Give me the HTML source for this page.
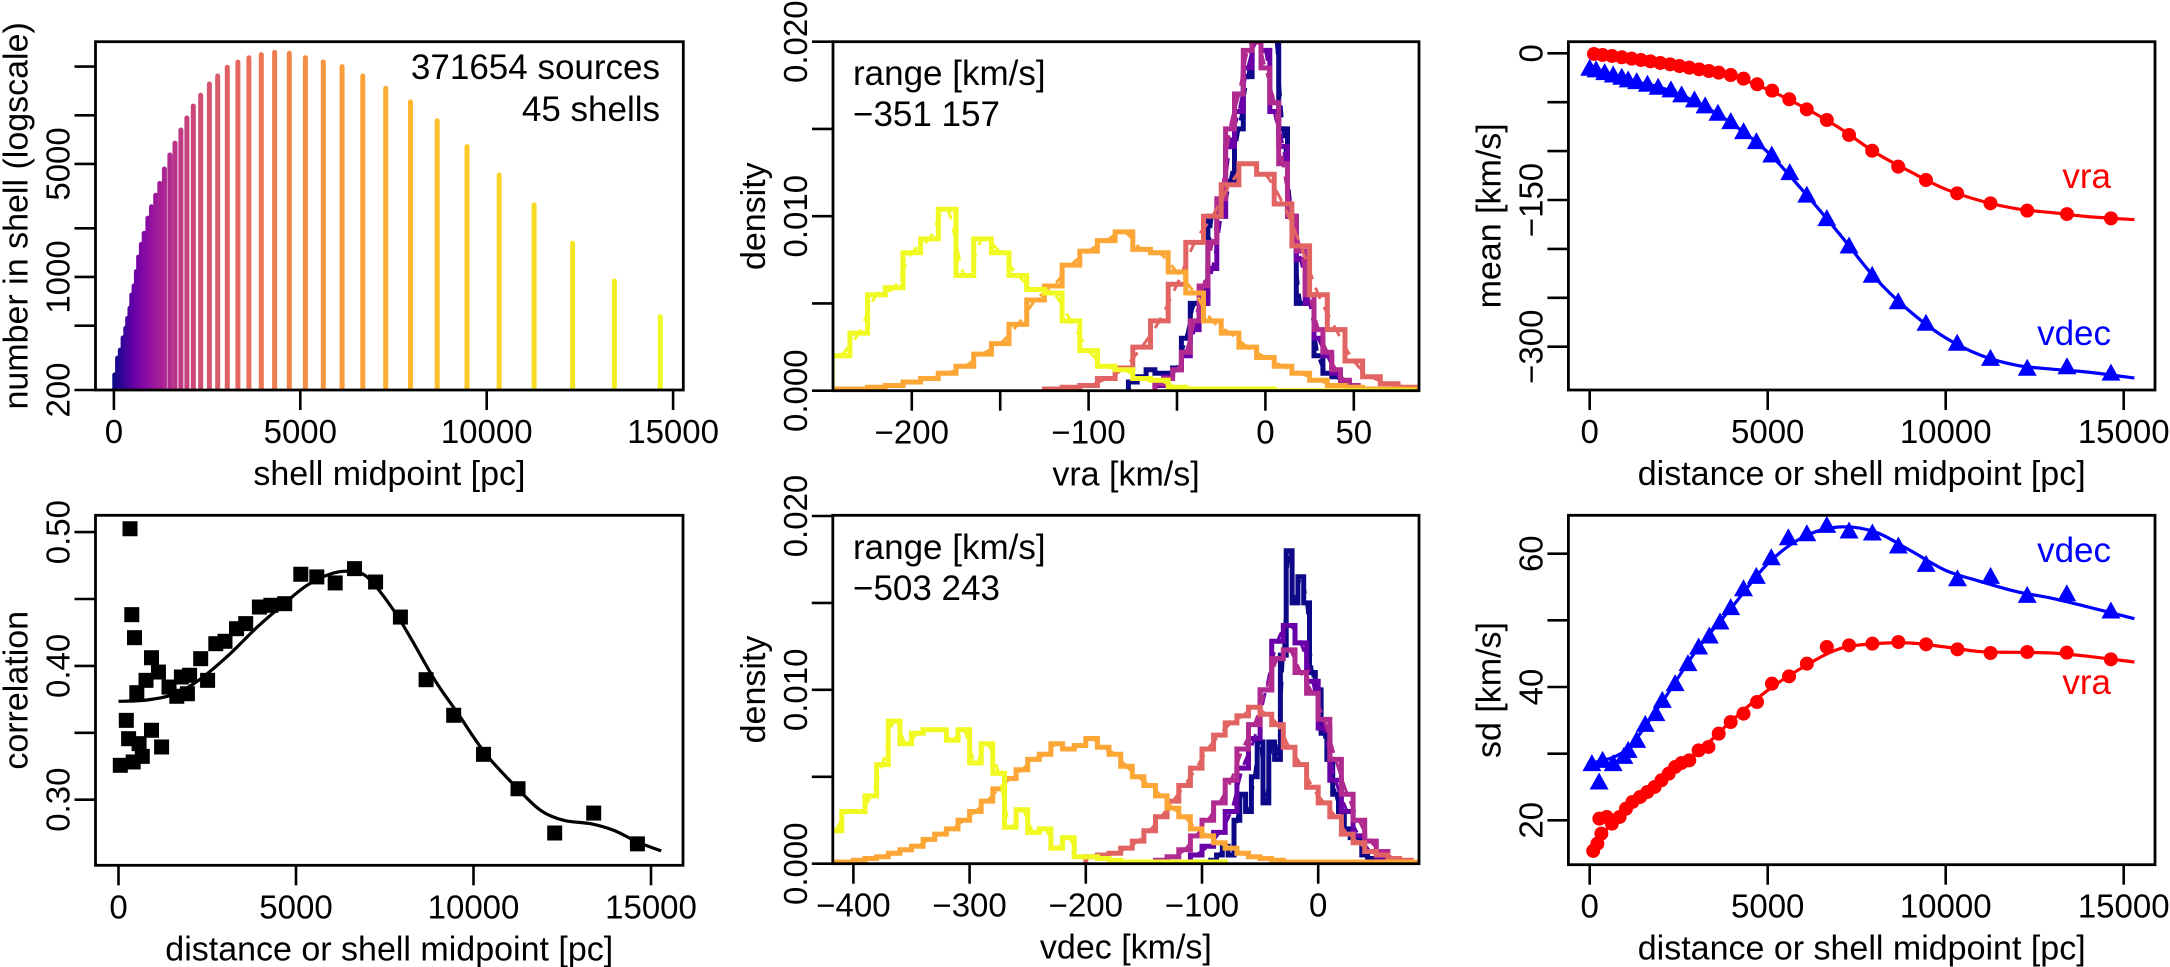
<!DOCTYPE html>
<html><head><meta charset="utf-8"><style>
html,body{margin:0;padding:0;background:#fff;}
svg{display:block;font-family:"Liberation Sans",Arial,sans-serif;}
</style></head><body>
<svg id="fig" width="2170" height="967" viewBox="0 0 2170 967" xmlns="http://www.w3.org/2000/svg">
<defs>
<clipPath id="c1"><rect x="95.5" y="41.7" width="587.8" height="348.3"/></clipPath>
<clipPath id="c2"><rect x="833" y="41.7" width="586" height="349"/></clipPath>
<clipPath id="c3"><rect x="1568.4" y="41.7" width="586.6" height="348.3"/></clipPath>
<clipPath id="c4"><rect x="95.5" y="515.3" width="587.5" height="350"/></clipPath>
<clipPath id="c5"><rect x="832.8" y="515.3" width="586.2" height="348.4"/></clipPath>
<clipPath id="c6"><rect x="1568.4" y="515.3" width="586.6" height="349.4"/></clipPath>
</defs>
</svg>
<script>
// ---------- DATA ----------
const shellDist=[24,99,172,247,319,370,431,480,542,604,665,738,813,912,1009,1121,1231,1355,1502,1639,1797,1958,2130,2328,2562,2784,3042,3326,3621,3954,4311,4705,5137,5617,6121,6676,7291,7956,8672,9472,10335,11271,12304,13425,14657];
const shellCount=[248,315,353,420,482,555,640,774,880,1080,1330,1590,1860,2310,2720,3200,3790,4650,5680,6720,8110,9620,11400,13300,15600,17500,19800,21300,22700,23700,24500,24200,22700,21400,20000,17500,14700,12100,9250,6400,4270,2790,1620,944,568];
const p1XTicks=[0,5000,10000,15000];
const p1YTicks=[200,500,1000,2000,5000,10000,20000];
const p1YLabels=["200","","1000","","5000","",""];

// vra histograms (bin start, bin width, densities)
const vraYellowStart=-245, vraYellowWidth=10;
const vraYellow=[0.0020,0.0033,0.0055,0.0059,0.0079,0.0087,0.0104,0.0066,0.0087,0.0079,0.0066,0.0058,0.0056,0.0040,0.0023,0.0014,0.0012,0.0007,0.0006,0.0002,0.0001,0.0001,0.0001,0.0001,0.0001,0.0000,0.0000,0.0000,0.0000,0.0000,0.0000,0.0000,0.0000];
const vraOrangeStart=-245, vraOrangeWidth=10;
const vraOrange=[0.0001,0.0001,0.0002,0.0003,0.0005,0.0007,0.0010,0.0014,0.0021,0.0027,0.0038,0.0052,0.0060,0.0072,0.0080,0.0086,0.0091,0.0081,0.0079,0.0068,0.0056,0.0040,0.0033,0.0025,0.0019,0.0014,0.0010,0.0006,0.0003,0.0002,0.0001,0.0001,0.0001];
const vraSalmonStart=-125, vraSalmonWidth=10;
const vraSalmon=[0.0001,0.0002,0.0003,0.0007,0.0013,0.0025,0.0040,0.0061,0.0085,0.0100,0.0118,0.0130,0.0124,0.0107,0.0083,0.0055,0.0035,0.0017,0.0008,0.0004,0.0002];
const vraMagentaStart=-62.5, vraMagentaWidth=5;
const vraMagenta=[0.0004,0.0007,0.0012,0.0022,0.0040,0.0060,0.0085,0.0110,0.0150,0.0170,0.0195,0.0200,0.0185,0.0165,0.0130,0.0100,0.0080,0.0055,0.0035,0.0022,0.0012,0.0006,0.0003];
const vraPurpleStart=-62.5, vraPurpleWidth=5;
const vraPurple=[0.0003,0.0008,0.0012,0.0020,0.0035,0.0050,0.0070,0.0100,0.0140,0.0160,0.0185,0.0200,0.0195,0.0160,0.0140,0.0100,0.0075,0.0050,0.0030,0.0020,0.0010,0.0005,0.0002];
const vraNavyStart=-77.5, vraNavyWidth=5;
const vraNavy=[0.0005,0.0008,0.0012,0.0010,0.0010,0.0013,0.0030,0.0050,0.0050,0.0100,0.0100,0.0120,0.0150,0.0180,0.0210,0.0210,0.0210,0.0150,0.0100,0.0050,0.0050,0.0020,0.0010,0.0008,0.0003];
const vraTicks=[-200,-150,-100,-50,0,50];
const vraTickLabels=["-200","","-100","","0","50"];

// vdec histograms
const vdecYellowStart=-420, vdecYellowWidth=10;
const vdecYellow=[0.0019,0.0030,0.0030,0.0039,0.0057,0.0082,0.0069,0.0075,0.0077,0.0077,0.0071,0.0077,0.0058,0.0069,0.0052,0.0021,0.0031,0.0018,0.0020,0.0009,0.0015,0.0004,0.0004,0.0003,0.0002,0.0001,0.0001,0.0001,0.0001,0.0001,0.0001,0.0001,0.0001,0.0001];
const vdecOrangeStart=-420, vdecOrangeWidth=10;
const vdecOrange=[0.0001,0.0001,0.0002,0.0003,0.0004,0.0006,0.0008,0.0010,0.0014,0.0017,0.0020,0.0025,0.0030,0.0036,0.0043,0.0049,0.0054,0.0060,0.0063,0.0069,0.0066,0.0068,0.0072,0.0067,0.0063,0.0056,0.0050,0.0045,0.0039,0.0032,0.0027,0.0020,0.0016,0.0012,0.0009,0.0006,0.0004,0.0003,0.0002,0.0001,0.0001,0.0001,0.0001,0.0001,0.0001,0.0001,0.0001,0.0001,0.0001,0.0001,0.0001];
const vdecSalmonStart=-200, vdecSalmonWidth=10;
const vdecSalmon=[0.0004,0.0005,0.0006,0.0009,0.0013,0.0019,0.0027,0.0036,0.0045,0.0055,0.0066,0.0074,0.0081,0.0085,0.0090,0.0086,0.0080,0.0067,0.0057,0.0044,0.0035,0.0027,0.0017,0.0012,0.0007,0.0005,0.0003,0.0002,0.0001];
const vdecMagentaStart=-140, vdecMagentaWidth=10;
const vdecMagenta=[0.0002,0.0004,0.0008,0.0016,0.0025,0.0035,0.0048,0.0066,0.0080,0.0100,0.0118,0.0123,0.0110,0.0098,0.0083,0.0060,0.0040,0.0025,0.0013,0.0007,0.0003,0.0001];
const vdecPurpleStart=-110, vdecPurpleWidth=10;
const vdecPurple=[0.0005,0.0010,0.0018,0.0030,0.0055,0.0072,0.0100,0.0128,0.0137,0.0127,0.0105,0.0078,0.0048,0.0030,0.0016,0.0007,0.0003];
const vdecNavyStart=-92.5, vdecNavyWidth=5;
const vdecNavy=[0.0002,0.0005,0.0010,0.0005,0.0025,0.0040,0.0030,0.0050,0.0070,0.0035,0.0070,0.0060,0.0120,0.0180,0.0150,0.0165,0.0150,0.0110,0.0100,0.0075,0.0060,0.0040,0.0030,0.0020,0.0015,0.0015,0.0005,0.0003,0.0002];
const vdecTicks=[-400,-300,-200,-100,0];
const vdecTickLabels=["-400","-300","-200","-100","0"];
const densTicks=[0,0.005,0.010,0.015,0.020];
const densTickLabels=["0.000","","0.010","","0.020"];

// mean panel
const meanVraDist=[121,360,624,902,1177,1441,1706,1982,2258,2522,2797,3073,3349,3625,3961,4321,4705,5125,5605,6097,6661,7285,7934,8666,9446,10322,11258,12290,13406,14642];
const meanVra=[-0.7,-1.7,-2.7,-4.1,-5.5,-6.9,-8.2,-9.9,-11.3,-13.0,-14.7,-16.4,-18.1,-19.8,-22.2,-25.9,-31.7,-38.2,-47.0,-57.3,-68.2,-83.5,-99.6,-115.9,-129.6,-143.2,-153.4,-160.9,-164.4,-168.8];
const meanVdecDist=[0,180,420,660,900,1081,1321,1622,1922,2282,2582,2942,3242,3602,3962,4322,4682,5115,5620,6097,6661,7285,7934,8666,9446,10322,11258,12290,13406,14642];
const meanVdec=[-15.3,-17,-19.8,-22.2,-24.5,-27.2,-28.9,-31.6,-34.7,-37.4,-42.5,-47.6,-53.8,-61.3,-69.8,-80.1,-90.3,-104,-122,-145,-169,-197,-227,-254,-276,-296.5,-312,-322,-320.5,-327];
const fitDist=[0,1000,2000,3000,4000,5000,6000,7000,8000,9000,10000,11000,12000,13000,14000,15300];
const meanVraFit=[-1,-6,-11,-17,-23,-37,-55,-76,-101,-121,-139,-151,-159,-163,-167,-170];
const meanVdecFit=[-16,-27,-35,-50,-72,-101,-141,-184,-229,-264,-291,-309,-319,-323,-326,-332];
const meanTicks=[0,-50,-100,-150,-200,-250,-300];
const meanTickLabels=["0","","","-150","","","-300"];
const distTicks=[0,5000,10000,15000];
const distTickLabels=["0","5000","10000","15000"];

// correlation panel
const corrDist=[324,375,451,930,1125,775,516,220,285,580,930,1214,670,414,51,1423,1642,1941,1772,2003,2315,2510,2741,3000,3324,3583,3969,4293,4682,5135,5586,6104,6648,7242,7941,8665,9442,10282,11254,12287,13386,14617];
const corrVal=[0.5025,0.4383,0.4211,0.4061,0.3954,0.3892,0.3800,0.3593,0.3456,0.3419,0.3519,0.3394,0.3324,0.3282,0.3257,0.3842,0.3773,0.3792,0.3917,0.3930,0.4054,0.3892,0.4166,0.4184,0.4278,0.4316,0.4440,0.4453,0.4465,0.4685,0.4665,0.4620,0.4727,0.4627,0.4365,0.3897,0.3631,0.3339,0.3082,0.2751,0.2900,0.2670];
const corrFitDist=[0,800,1580,2300,3100,3907,4600,5300,6000,6600,7065,7752,8269,8915,9562,10339,11245,11892,12540,13316,13963,14610,15287];
const corrFit=[0.3735,0.3745,0.3790,0.3900,0.4080,0.4290,0.4450,0.4600,0.4690,0.4705,0.4650,0.4415,0.4191,0.3892,0.3643,0.3344,0.3082,0.2920,0.2846,0.2820,0.2770,0.2685,0.2617];
const corrTicks=[0.30,0.35,0.40,0.45,0.50];
const corrTickLabels=["0.30","","0.40","","0.50"];

// sd panel
const sdVraDist=[98,216,328,272,480,624,840,1020,1200,1416,1620,1824,2016,2220,2400,2580,2797,3060,3336,3624,3960,4320,4700,5120,5600,6100,6660,7285,7940,8670,9450,10330,11260,12290,13400,14640];
const sdVra=[15.4,16.5,18,20.25,20.5,19.5,20.5,21.75,22.75,23.5,24.25,25,26,27,28,28.6,29,30.5,31,33,34.75,36,37.75,40.5,41.6,43.5,46,46.25,46.5,46.75,46.4,45.65,45.1,45.25,45.15,44.15];
const sdVdecDist=[62,362,264,660,960,1080,1320,1560,1860,2040,2400,2760,3060,3360,3660,3960,4320,4680,5100,5580,6100,6660,7285,7940,8670,9450,10330,11260,12290,13400,14640];
const sdVdec=[28.5,29.0,25.75,28.5,29.6,30.5,32,34.4,36,38,40.5,43.5,46,47.65,49.75,51.9,54.75,56.6,59.4,62.4,63,64.25,63.4,63.1,61.15,58.4,56.25,56.6,53.75,54,51.4];
const sdVraFit=[16,21.5,26,30,35,39.5,43,45.7,46.5,46.6,46,45.3,45.2,45.1,44.6,43.75];
const sdVdecFit=[28.5,30.5,37.5,45.5,52,58.5,62.5,64,63.3,60.5,57.5,55.8,54.3,53.3,52,50.25];
const sdTicks=[20,30,40,50,60];
const sdTickLabels=["20","","40","","60"];

// ---------- RENDERING ----------
const NS='http://www.w3.org/2000/svg';
const svg=document.getElementById('fig');
function mk(tag,attrs,parent){const e=document.createElementNS(NS,tag);for(const k in attrs)e.setAttribute(k,attrs[k]);(parent||svg).appendChild(e);return e;}
function txt(str,x,y,size,anchor,fill,rot,parent){
  const t=mk('text',{x:0,y:0,'font-size':size,'text-anchor':anchor||'middle',fill:fill||'#000',transform:'translate('+x+','+y+')'+(rot?' rotate(-90)':'')},parent);
  t.textContent=str;return t;}
const TF=33;
function panel(name,box,sx,sy,xt,xl,yt,yl,xtitle,ytitle,clip){
  const g=mk('g',{});
  
  
  const [L,T,R,B]=box;
  const xa=mk('g',{},g);
  
  
  xt.forEach((v,i)=>{const x=sx(v);
    const tk=mk('line',{x1:x,x2:x,y1:B,y2:B+20,stroke:'#000','stroke-width':2.6},xa);
    
    
    if(xl[i]!==''){const t=txt(xl[i].replace('-','\u2212'),x,B+53,TF,'middle','#000',false,xa);
      
      }
  });
  const xtt=txt(xtitle,(L+R)/2,B+95,34,'middle','#000',false,g);
  
  
  const ya=mk('g',{},g);
  
  
  yt.forEach((v,i)=>{const y=sy(v);
    const tk=mk('line',{x1:L-21,x2:L,y1:y,y2:y,stroke:'#000','stroke-width':2.6},ya);
    
    
    if(yl[i]!==''){const t=txt(yl[i].replace('-','\u2212'),L-26,y,TF,'middle','#000',true,ya);
      
      }
  });
  const ytt=txt(ytitle,L-68,(T+B)/2,34,'middle','#000',true,g);
  
  
  const plot=mk('g',{'clip-path':'url(#'+clip+')'},g);
  
  
  const fr=mk('rect',{x:L,y:T,width:R-L,height:B-T,fill:'none',stroke:'#000','stroke-width':2.8},g);
  
  
  return {g,plot};
}
function smooth(pts){
  let d='M'+pts[0][0].toFixed(1)+','+pts[0][1].toFixed(1);
  for(let i=0;i<pts.length-1;i++){
    const p0=pts[Math.max(0,i-1)],p1=pts[i],p2=pts[i+1],p3=pts[Math.min(pts.length-1,i+2)];
    const c1=[p1[0]+(p2[0]-p0[0])/6,p1[1]+(p2[1]-p0[1])/6],c2=[p2[0]-(p3[0]-p1[0])/6,p2[1]-(p3[1]-p1[1])/6];
    d+=' C'+c1[0].toFixed(1)+','+c1[1].toFixed(1)+' '+c2[0].toFixed(1)+','+c2[1].toFixed(1)+' '+p2[0].toFixed(1)+','+p2[1].toFixed(1);
  }
  return d;
}
const plasmaStops=[[13,8,135],[65,4,157],[106,0,168],[143,13,164],[177,42,144],[204,71,120],[225,100,98],[242,132,75],[252,166,54],[252,206,37],[240,249,33]];
function plasma(t){const s=t*(plasmaStops.length-1);const i=Math.min(plasmaStops.length-2,Math.floor(s));const f=s-i;
  const a=plasmaStops[i],b=plasmaStops[i+1];return 'rgb('+a.map((v,k)=>Math.round(v+(b[k]-v)*f)).join(',')+')';}

// Panel 1
{
  const sx=d=>113.9+d*0.03728, sy=v=>390-161.7*Math.log10(v/200);
  const p=panel('shell-count-panel',[95.5,41.7,683.3,390],sx,sy,p1XTicks,p1XTicks.map(String),p1YTicks,p1YLabels,'shell midpoint [pc]','number in shell (logscale)','c1');
  shellDist.forEach((d,i)=>{
    const b=mk('line',{x1:sx(d),x2:sx(d),y1:392,y2:sy(shellCount[i]),stroke:plasma(i/(shellDist.length-1)),'stroke-width':5,'stroke-linecap':'round'},p.plot);
    
    
  });
  const t1=txt('371654 sources',660,79,35,'end','#000',false,p.g);
  
  
  const t2=txt('45 shells',660,121,35,'end','#000',false,p.g);
  
  
}
function hist(plot,sx,sy,start,w,vals,color){
  let d='M'+sx(start).toFixed(1)+','+sy(0).toFixed(1);
  vals.forEach((v,i)=>{d+=' V'+sy(v).toFixed(1)+' H'+sx(start+(i+1)*w).toFixed(1);});
  d+=' V'+sy(0).toFixed(1);
  const h=mk('path',{d:d,fill:'none',stroke:color,'stroke-width':5,'stroke-linejoin':'miter'},plot);
  
  
  const pts=vals.map((v,i)=>[sx(start+(i+0.5)*w),sy(v)]);
  const c=mk('path',{d:smooth(pts),fill:'none',stroke:color,'stroke-width':3,'stroke-dasharray':'12,9'},plot);
  
  
}
const COL={navy:'#0d0887',purple:'#6a00a8',magenta:'#b12a90',salmon:'#e16462',orange:'#fca636',yellow:'#f0f921'};
// Panel 2
{
  const sx=v=>1265.4+v*1.768, sy=d=>390.7-d*17450;
  const p=panel('vra-histogram-panel',[833,41.7,1419,390.7],sx,sy,vraTicks,vraTickLabels,densTicks,densTickLabels,'vra [km/s]','density','c2');
  hist(p.plot,sx,sy,vraNavyStart,vraNavyWidth,vraNavy,COL.navy);
  hist(p.plot,sx,sy,vraPurpleStart,vraPurpleWidth,vraPurple,COL.purple);
  hist(p.plot,sx,sy,vraMagentaStart,vraMagentaWidth,vraMagenta,COL.magenta);
  hist(p.plot,sx,sy,vraSalmonStart,vraSalmonWidth,vraSalmon,COL.salmon);
  hist(p.plot,sx,sy,vraOrangeStart,vraOrangeWidth,vraOrange,COL.orange);
  hist(p.plot,sx,sy,vraYellowStart,vraYellowWidth,vraYellow,COL.yellow);
  const a=txt('range [km/s]',853,85,35,'start','#000',false,p.g);
  
  
  const b=txt('\u2212351 157',853,126,35,'start','#000',false,p.g);
  
  
}
// Panel 5
{
  const sx=v=>1318.2+v*1.162, sy=d=>863.7-d*17385;
  const p=panel('vdec-histogram-panel',[832.8,515.3,1419,863.7],sx,sy,vdecTicks,vdecTickLabels,densTicks,densTickLabels,'vdec [km/s]','density','c5');
  hist(p.plot,sx,sy,vdecNavyStart,vdecNavyWidth,vdecNavy,COL.navy);
  hist(p.plot,sx,sy,vdecPurpleStart,vdecPurpleWidth,vdecPurple,COL.purple);
  hist(p.plot,sx,sy,vdecMagentaStart,vdecMagentaWidth,vdecMagenta,COL.magenta);
  hist(p.plot,sx,sy,vdecSalmonStart,vdecSalmonWidth,vdecSalmon,COL.salmon);
  hist(p.plot,sx,sy,vdecOrangeStart,vdecOrangeWidth,vdecOrange,COL.orange);
  hist(p.plot,sx,sy,vdecYellowStart,vdecYellowWidth,vdecYellow,COL.yellow);
  const a=txt('range [km/s]',853,559,35,'start','#000',false,p.g);
  
  
  const b=txt('\u2212503 243',853,600,35,'start','#000',false,p.g);
  
  
}
function circles(plot,sx,sy,xs,ys,color){
  xs.forEach((d,i)=>{const c=mk('circle',{cx:sx(d),cy:sy(ys[i]),r:7,fill:color},plot);
    
    });
}
function tris(plot,sx,sy,xs,ys,color){
  xs.forEach((d,i)=>{const x=sx(d),y=sy(ys[i]);
    const t=mk('polygon',{points:(x-9.5)+','+(y+7.5)+' '+(x+9.5)+','+(y+7.5)+' '+x+','+(y-9.5),fill:color},plot);
    
    });
}
function fitLine(plot,sx,sy,xs,ys,color,name){
  const l=mk('path',{d:smooth(xs.map((d,i)=>[sx(d),sy(ys[i])])),fill:'none',stroke:color,'stroke-width':3.2},plot);
  
  
}
// Panel 3
{
  const sx=d=>1589.7+d*0.0356, sy=v=>53.3-v*0.978;
  const p=panel('mean-panel',[1568.4,41.7,2155,390],sx,sy,distTicks,distTickLabels,meanTicks,meanTickLabels,'distance or shell midpoint [pc]','mean [km/s]','c3');
  fitLine(p.plot,sx,sy,fitDist,meanVraFit,'#ff0000','vra-fit-line');
  fitLine(p.plot,sx,sy,fitDist,meanVdecFit,'#0000ff','vdec-fit-line');
  circles(p.plot,sx,sy,meanVraDist,meanVra,'#ff0000');
  tris(p.plot,sx,sy,meanVdecDist,meanVdec,'#0000ff');
  const a=txt('vra',2111,188,35,'end','#ff0000',false,p.g);
  
  
  const b=txt('vdec',2111,345,35,'end','#0000ff',false,p.g);
  
  
}
// Panel 4
{
  const sx=d=>118.5+d*0.0355, sy=v=>799.7-(v-0.30)*1338;
  const p=panel('correlation-panel',[95.5,515.3,683,865.3],sx,sy,distTicks,distTickLabels,corrTicks,corrTickLabels,'distance or shell midpoint [pc]','correlation','c4');
  fitLine(p.plot,sx,sy,corrFitDist,corrFit,'#000','correlation-fit-line');
  corrDist.forEach((d,i)=>{const s=mk('rect',{x:sx(d)-7.5,y:sy(corrVal[i])-7.5,width:15,height:15,fill:'#000'},p.plot);
    
    });
}
// Panel 6
{
  const sx=d=>1589.7+d*0.0356, sy=v=>820.3-(v-20)*6.665;
  const p=panel('sd-panel',[1568.4,515.3,2155,864.7],sx,sy,distTicks,distTickLabels,sdTicks,sdTickLabels,'distance or shell midpoint [pc]','sd [km/s]','c6');
  fitLine(p.plot,sx,sy,fitDist,sdVraFit,'#ff0000','vra-fit-line');
  fitLine(p.plot,sx,sy,fitDist,sdVdecFit,'#0000ff','vdec-fit-line');
  circles(p.plot,sx,sy,sdVraDist,sdVra,'#ff0000');
  tris(p.plot,sx,sy,sdVdecDist,sdVdec,'#0000ff');
  const a=txt('vdec',2111,562,35,'end','#0000ff',false,p.g);
  
  
  const b=txt('vra',2111,694,35,'end','#ff0000',false,p.g);
  
  
}
</script>
</body></html>
